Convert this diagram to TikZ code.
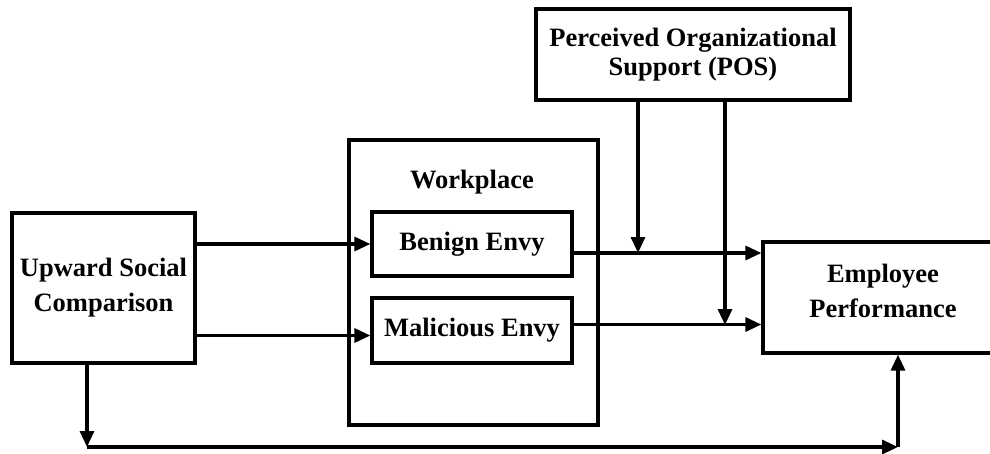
\documentclass[tikz,border=0pt]{standalone}
\usepackage{fontspec}
\setmainfont{Liberation Serif}
\usetikzlibrary{arrows.meta,positioning,calc}
\tikzset{
  box/.style={draw, line width=3.2pt, align=center, font=\fontsize{26.5}{35}\selectfont\bfseries, inner sep=0pt},
  lbl/.style={align=center, font=\fontsize{26.5}{35}\selectfont\bfseries, inner sep=0pt},
  arr/.style={-{Triangle[length=16pt,width=14pt]}, line width=3.2pt},
}

\begin{document}
\begin{tikzpicture}[x=1pt,y=-1pt]
  \useasboundingbox (0,0) rectangle (990,453);
  \node[box, minimum width=314pt, minimum height=91pt, font=\fontsize{26.5}{29}\selectfont\bfseries] (pos) at (693,54.5) {Perceived Organizational\\Support (POS)};
  \node[box, minimum width=249pt, minimum height=285pt] (work) at (473.5,282.5) {};
  \node[lbl] (worklbl) at (472,182) {Workplace};
  \node[box, minimum width=200pt, minimum height=64pt] (benign) at (472,244) {Benign Envy};
  \node[box, minimum width=200pt, minimum height=65pt] (malic) at (472,330.5) {Malicious Envy};
  \node[box, minimum width=183pt, minimum height=150pt] (usc) at (103.5,288) {Upward Social\\Comparison};
  \node[box, minimum width=240pt, minimum height=111pt] (emp) at (883,297.5) {};
  \node[lbl] (emplbl) at (883,291) {Employee\\Performance};
  % moderation points and the lower path
  \coordinate (b1) at (638,253);
  \coordinate (m1) at (725,325);
  \coordinate (d1) at (87,447);
  \coordinate (d2) at (898,447);
  \draw[arr] (benign.west -| usc.east) -- (benign.west);
  \draw[arr] ([yshift=-5pt]malic.west -| usc.east) -- ([yshift=-5pt]malic.west);
  \draw[arr] ([yshift=-9pt]benign.east) -- ([yshift=-9pt]benign.east -| emp.west);
  \draw[arr] ([yshift=6pt]malic.east) -- ([yshift=6pt]malic.east -| emp.west);
  \draw[arr] (pos.south -| b1) -- (b1);
  \draw[arr] (pos.south -| m1) -- (m1);
  \draw[arr] (usc.south -| d1) -- (d1);
  \draw[arr] (d1) -- (d2);
  \draw[arr] (d2) -- (d2 |- emp.south);
\end{tikzpicture}
\end{document}
